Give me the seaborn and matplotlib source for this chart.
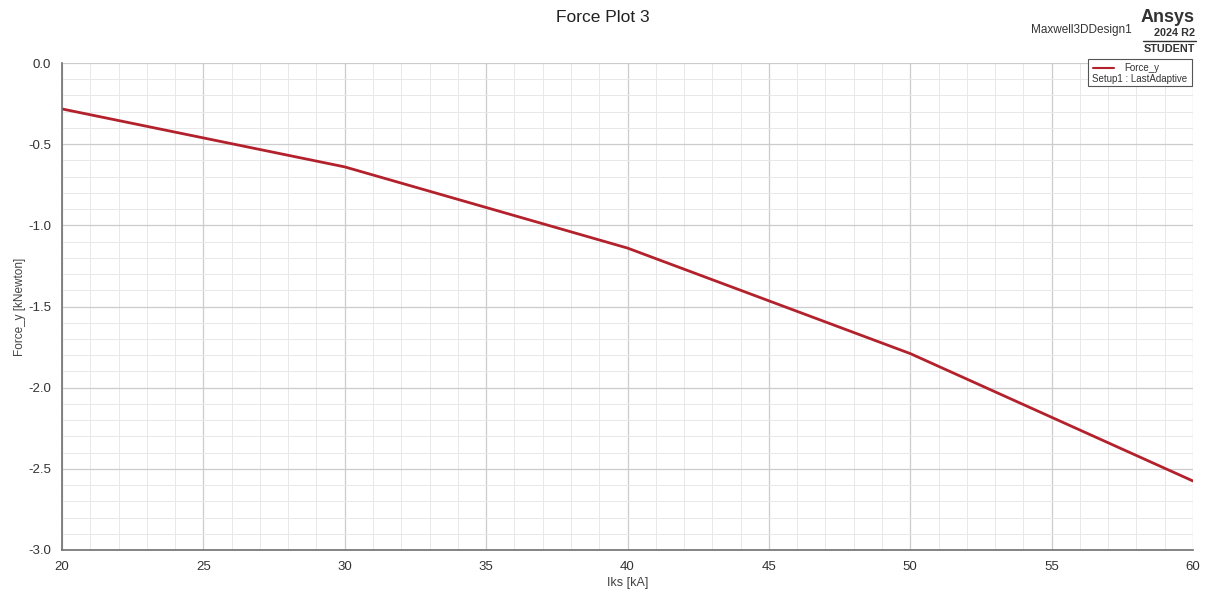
import matplotlib
matplotlib.use('Agg')
import matplotlib.pyplot as plt
import pandas as pd
import seaborn as sns
from matplotlib.ticker import MultipleLocator

# data
iks = [20, 30, 40, 50, 60]
force_y = [-0.283, -0.64, -1.14, -1.79, -2.575]

sns.set_style('white')
plt.rcParams['font.family'] = ['Liberation Sans', 'DejaVu Sans']

df = pd.DataFrame({'Iks [kA]': iks, 'Force_y': force_y})

W, H = 1206, 593
fig = plt.figure(figsize=(W / 100, H / 100), dpi=100)
ax = fig.add_axes([62 / W, 1 - 550 / H, (1193 - 62) / W, (550 - 63) / H])

sns.lineplot(data=df, x='Iks [kA]', y='Force_y', ax=ax, color='#b3222c',
             linewidth=2, legend=False)

ax.set_xlim(20, 60)
ax.set_ylim(-3.0, 0.0)
ax.xaxis.set_major_locator(MultipleLocator(5))
ax.xaxis.set_minor_locator(MultipleLocator(1))
ax.yaxis.set_major_locator(MultipleLocator(0.5))
ax.yaxis.set_minor_locator(MultipleLocator(0.1))
ax.yaxis.set_major_formatter(plt.FormatStrFormatter('%.1f'))

ax.grid(which='major', color='#cccccc', linewidth=0.9)
ax.grid(which='minor', color='#e8e8e8', linewidth=0.7)
ax.set_axisbelow(True)

for s in ['top', 'right']:
    ax.spines[s].set_visible(False)
for s in ['left', 'bottom']:
    ax.spines[s].set_color('#707070')
    ax.spines[s].set_linewidth(1.2)

ax.tick_params(which='major', direction='out', length=6, width=1, color='#707070',
               labelsize=9.5, labelcolor='#333333', pad=2)
ax.tick_params(which='minor', direction='out', length=3, width=1, color='#707070')

ax.set_xlabel('Iks [kA]', fontsize=9, color='#444444', labelpad=3)
ax.set_ylabel('Force_y [kNewton]', fontsize=8.5, color='#444444', labelpad=1)


def fx(px):
    return px / W


def fy(py):
    return 1 - py / H


fig.text(0.5, fy(17), 'Force Plot 3', ha='center', va='center', fontsize=12.5, color='#222222')
fig.text(fx(1081), fy(30.5), 'Maxwell3DDesign1', ha='center', va='center', fontsize=8.5, color='#333333')
fig.text(fx(1195), fy(18), 'Ansys', ha='right', va='center', fontsize=13, fontweight='bold', color='#333333')
fig.text(fx(1195), fy(32.5), '2024 R2', ha='right', va='center', fontsize=7.8, fontweight='bold', color='#333333')
fig.add_artist(plt.Line2D([fx(1143), fx(1196)], [fy(40.5), fy(40.5)], color='#333333', linewidth=1))
fig.text(fx(1195), fy(48.5), 'STUDENT', ha='right', va='center', fontsize=7.8, fontweight='bold', color='#333333')

# legend box
fig.add_artist(plt.Rectangle((fx(1088), fy(86)), fx(1192) - fx(1088), fy(59) - fy(86),
                             transform=fig.transFigure, facecolor='white',
                             edgecolor='#555555', linewidth=0.8, zorder=5))
fig.add_artist(plt.Line2D([fx(1093), fx(1114)], [fy(68), fy(68)], color='#b3222c',
                          linewidth=1.5, zorder=6))
fig.text(fx(1142), fy(68), 'Force_y', ha='center', va='center', fontsize=7, color='#333333', zorder=6)
fig.text(fx(1140), fy(79), 'Setup1 : LastAdaptive', ha='center', va='center', fontsize=7,
         color='#333333', zorder=6)

fig.savefig('out.png', dpi=100)
